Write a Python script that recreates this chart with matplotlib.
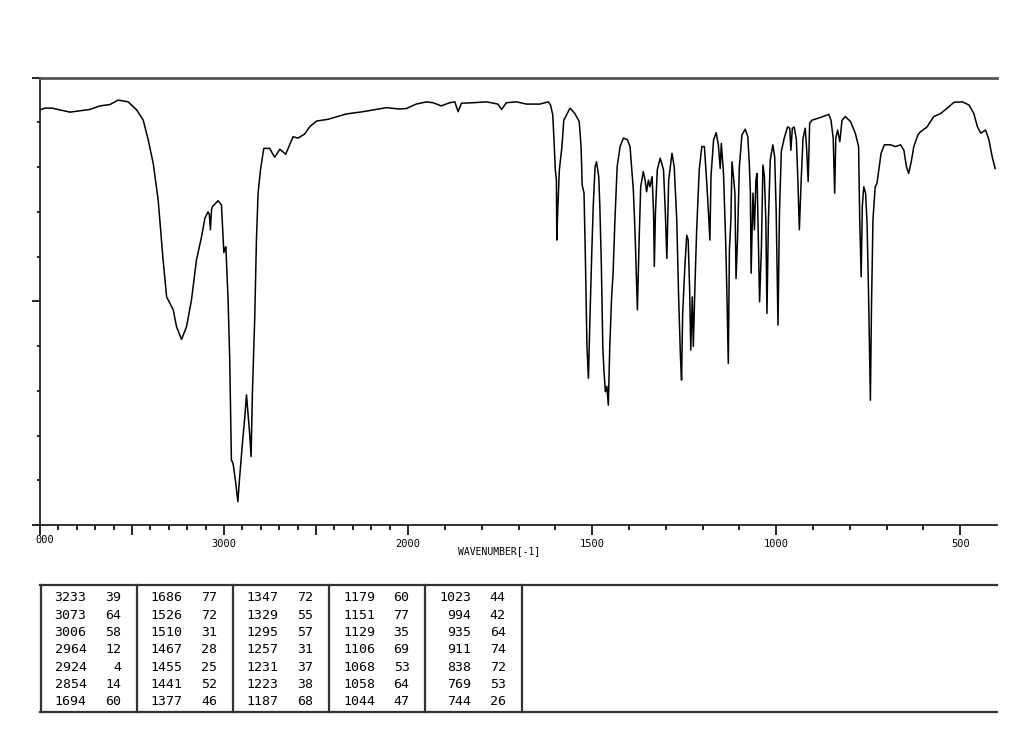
import numpy as np
import matplotlib.pyplot as plt
from matplotlib.ticker import FixedLocator

# IR 光谱 (读自图像): 波数 cm-1 与透过率 %T
wavenumber = [
    4000, 3973, 3935, 3837, 3729, 3674, 3620, 3575, 3521, 3475, 3439, 3412,
    3385, 3358, 3331, 3312, 3276, 3258, 3231, 3204, 3177, 3150, 3122, 3104,
    3087, 3080, 3074, 3068, 3063, 3032, 3014, 3006, 3001, 2994, 2990, 2978,
    2969, 2960, 2951, 2936, 2925, 2915, 2900, 2887, 2878, 2867, 2860, 2853,
    2846, 2833, 2824, 2815, 2802, 2784, 2752, 2725, 2697, 2665, 2625, 2598,
    2562, 2535, 2498, 2435, 2335, 2245, 2118, 2046, 2010, 1978, 1950, 1932,
    1910, 1887, 1873, 1864, 1855, 1824, 1787, 1756, 1746, 1733, 1706, 1678,
    1642, 1619, 1613, 1607, 1604, 1600, 1597, 1596, 1593, 1589, 1582, 1577,
    1560, 1547, 1535, 1530, 1527, 1522, 1518, 1514, 1510, 1506, 1501, 1497,
    1492, 1488, 1482, 1479, 1475, 1471, 1468, 1464, 1460, 1456, 1452, 1447,
    1443, 1438, 1432, 1424, 1415, 1404, 1397, 1388, 1383, 1377, 1372, 1368,
    1361, 1356, 1352, 1347, 1343, 1337, 1333, 1331, 1328, 1323, 1315, 1306,
    1301, 1297, 1292, 1283, 1277, 1270, 1265, 1260, 1257, 1254, 1248, 1243,
    1239, 1235, 1232, 1228, 1225, 1221, 1216, 1209, 1202, 1195, 1189, 1184,
    1180, 1177, 1170, 1163, 1157, 1152, 1149, 1143, 1137, 1134, 1130, 1127,
    1123, 1120, 1116, 1112, 1109, 1105, 1100, 1093, 1084, 1077, 1073, 1070,
    1068, 1063, 1059, 1055, 1052, 1049, 1045, 1040, 1036, 1032, 1028, 1025,
    1021, 1016, 1009, 1004, 1000, 995, 991, 986, 978, 969, 963, 960,
    956, 951, 945, 941, 937, 932, 927, 921, 917, 913, 909, 903,
    880, 857, 851, 845, 841, 838, 833, 827, 821, 812, 798, 785,
    776, 773, 769, 766, 762, 757, 753, 749, 744, 741, 737, 731,
    726, 720, 715, 706, 689, 676, 662, 653, 646, 640, 633, 626,
    615, 608, 590, 572, 553, 535, 517, 494, 476, 463, 453, 444,
    431, 422, 413, 405,
]
transmittance = [
    92.8, 93.2, 93.2, 92.3, 92.9, 93.7, 94.0, 95.0, 94.6, 92.8, 90.5, 86.1,
    80.9, 72.7, 59.2, 51.0, 48.1, 44.3, 41.5, 44.3, 50.3, 59.2, 64.5, 68.6,
    70.0, 69.5, 66.0, 70.5, 71.2, 72.5, 71.5, 65.0, 60.9, 62.0, 62.2, 50.3,
    36.9, 14.5, 13.8, 9.3, 5.2, 10.8, 18.3, 24.2, 29.1, 23.5, 20.0, 15.3,
    29.4, 46.6, 63.7, 74.2, 79.4, 84.2, 84.2, 82.2, 84.0, 82.9, 86.8, 86.5,
    87.4, 89.0, 90.3, 90.7, 91.9, 92.4, 93.3, 93.0, 93.1, 94.1, 94.6, 94.4,
    93.7, 94.4, 94.6, 92.4, 94.3, 94.4, 94.6, 94.1, 92.9, 94.4, 94.6, 94.1,
    94.1, 94.6, 93.9, 91.7, 86.8, 79.4, 77.1, 63.7, 71.2, 79.4, 84.6, 90.5,
    93.2, 92.0, 90.2, 84.6, 76.0, 74.2, 58.5, 39.9, 32.8, 45.8, 60.7, 71.2,
    80.1, 81.2, 77.9, 71.2, 58.5, 39.9, 34.7, 29.8, 31.0, 26.8, 39.9, 51.0,
    56.3, 68.2, 80.1, 84.6, 86.5, 86.1, 84.6, 74.9, 64.5, 48.1, 64.5, 75.6,
    79.0, 77.1, 74.5, 77.1, 75.6, 77.9, 69.7, 57.8, 69.7, 79.4, 82.0, 79.4,
    69.7, 59.6, 77.1, 83.1, 80.1, 68.2, 51.0, 37.6, 32.4, 47.3, 57.8, 64.8,
    63.7, 52.5, 39.1, 51.0, 39.9, 52.5, 65.9, 79.4, 84.6, 84.6, 77.1, 70.0,
    63.7, 78.0, 86.1, 87.7, 85.0, 79.7, 85.3, 78.6, 63.0, 52.5, 36.1, 61.5,
    68.2, 81.2, 77.9, 74.2, 55.1, 63.7, 80.1, 87.2, 88.5, 86.8, 80.9, 74.2,
    56.3, 74.2, 66.0, 77.1, 78.6, 66.0, 49.9, 62.2, 80.5, 77.9, 68.2, 47.3,
    68.2, 81.6, 85.0, 82.3, 70.4, 44.7, 69.7, 83.5, 86.5, 89.0, 88.7, 83.8,
    88.7, 89.0, 86.1, 77.1, 66.0, 77.1, 86.5, 88.7, 83.8, 76.8, 89.8, 90.5,
    91.1, 91.8, 90.5, 86.5, 74.2, 86.5, 88.3, 85.7, 90.5, 91.3, 90.2, 87.6,
    84.6, 68.2, 55.5, 71.2, 75.6, 74.2, 67.4, 51.8, 27.9, 48.8, 68.2, 75.6,
    76.4, 80.1, 83.1, 85.0, 85.0, 84.6, 85.0, 83.8, 80.1, 78.6, 81.2, 84.6,
    87.2, 87.9, 89.0, 91.3, 92.0, 93.2, 94.5, 94.6, 93.9, 92.0, 89.0, 87.6,
    88.3, 86.1, 82.3, 79.7,
]

# 峰值表
peak_wn = [3233, 3073, 3006, 2964, 2924, 2854, 1694,
           1686, 1526, 1510, 1467, 1455, 1441, 1377,
           1347, 1329, 1295, 1257, 1231, 1223, 1187,
           1179, 1151, 1129, 1106, 1068, 1058, 1044,
           1023, 994, 935, 911, 838, 769, 744]
peak_t = [39, 64, 58, 12, 4, 14, 60,
          77, 72, 31, 28, 25, 52, 46,
          72, 55, 57, 31, 37, 38, 68,
          60, 77, 35, 69, 53, 64, 47,
          44, 42, 64, 74, 72, 53, 26]

xtick_pos = [4000, 3500, 3000, 2500, 2000, 1500, 1000, 500]
xtick_lab = ["", "", "3000", "", "2000", "1500", "1000", "500"]

MONO = "DejaVu Sans Mono"
W, H = 1024, 734


# 2000 以下刻度放大两倍
def forward(w):
    w = np.asarray(w, dtype=float)
    return np.where(w >= 2000, w, 2 * w - 2000)


def inverse(u):
    u = np.asarray(u, dtype=float)
    return np.where(u >= 2000, u, (u + 2000) / 2)


fig = plt.figure(figsize=(W / 100, H / 100), dpi=100)

# 峰值表 (像素坐标)
tab = fig.add_axes([0, 0, 1, 1])
tab.set_xlim(0, W)
tab.set_ylim(H, 0)
tab.axis("off")
for yy in (585, 712):
    tab.plot([40, 997], [yy, yy], color="#333333", lw=1.6)
for k in range(6):
    xx = 40.5 + k * 96.2
    tab.plot([xx, xx], [585, 712], color="#333333", lw=1.6)
for i, (w, t) in enumerate(zip(peak_wn, peak_t)):
    col, row = divmod(i, 7)
    yy = 597.7 + row * 17.33
    tab.text(86.5 + col * 96.2, yy, str(w), ha="right", va="center",
             family=MONO, fontsize=9.5)
    tab.text(121 + col * 96.2, yy, str(t), ha="right", va="center",
             family=MONO, fontsize=9.5)

# 光谱
ax = fig.add_axes([40 / W, 1 - 525 / H, 957 / W, (525 - 77.7) / H])
ax.set_xscale("function", functions=(forward, inverse))
ax.plot(wavenumber, transmittance, color="black", lw=1.1)
ax.set_xlim(4000, 400)
ax.set_ylim(0, 100)

ax.set_xticks(xtick_pos, xtick_lab)
ax.xaxis.set_minor_locator(FixedLocator(list(range(500, 4000, 100))))
ax.tick_params(axis="x", which="major", length=7, width=1.2, labelsize=7.5,
               pad=3, labelfontfamily=MONO)
ax.tick_params(axis="x", which="minor", length=3.5, width=1.2)
ax.set_yticks([0, 50, 100])
ax.set_yticks(list(range(10, 100, 10)), minor=True)
ax.tick_params(axis="y", which="major", length=6, width=1.2, labelleft=False)
ax.tick_params(axis="y", which="minor", length=2.5, width=1.2)

ax.spines["right"].set_visible(False)
ax.spines["top"].set_color("#555555")
ax.spines["top"].set_linewidth(2)
for s in ("left", "bottom"):
    ax.spines[s].set_color("#222222")
    ax.spines[s].set_linewidth(1.3)

fig.text(44.5 / W, 1 - 540 / H, "000", ha="center", va="center",
         family=MONO, fontsize=7.5)
fig.text(499 / W, 1 - 551 / H, "WAVENUMBER[-1]", ha="center", va="center",
         family=MONO, fontsize=7)

fig.savefig("out.png", dpi=100)
